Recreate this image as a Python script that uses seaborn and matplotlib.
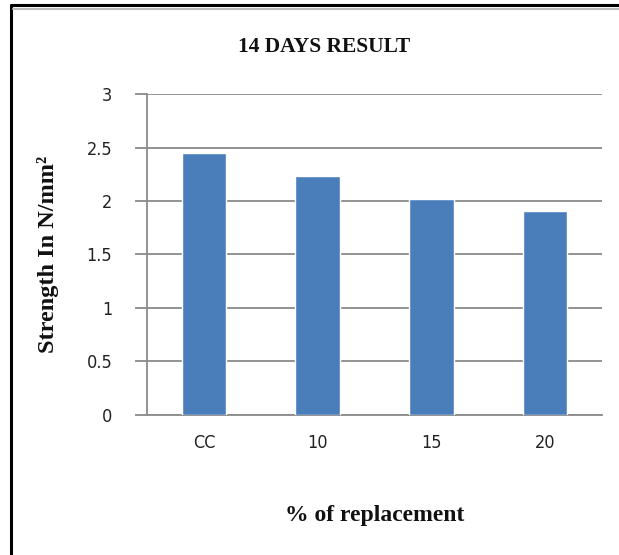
import matplotlib
matplotlib.use("Agg")
import matplotlib.pyplot as plt
import seaborn as sns
import pandas as pd
from matplotlib.lines import Line2D

categories = ["CC", "10", "15", "20"]
strength = [2.45, 2.23, 2.02, 1.91]
y_ticks = [0, 0.5, 1, 1.5, 2, 2.5, 3]
y_tick_labels = ["0", "0.5", "1", "1.5", "2", "2.5", "3"]

sns.set_theme(style="white")
plt.rcParams["font.family"] = ["DejaVu Sans"]
plt.rcParams["font.stretch"] = "condensed"

df = pd.DataFrame({"replacement": categories, "strength": strength})

fig = plt.figure(figsize=(6.19, 5.55), dpi=100)
ax = fig.add_axes([0.2375, 0.2523, 0.735, 0.5783])

sns.barplot(data=df, x="replacement", y="strength", ax=ax,
            color="#4A7EBB", saturation=1, width=0.39, zorder=3)

ax.set_ylim(0, 3)
ax.set_yticks(y_ticks)
ax.set_yticklabels(y_tick_labels)
ax.yaxis.grid(True, color="#8a8a8a", linewidth=1.3, zorder=0)
ax.set_axisbelow(True)

for side in ["top", "right"]:
    ax.spines[side].set_visible(False)
for side in ["left", "bottom"]:
    ax.spines[side].set_color("#8a8a8a")
    ax.spines[side].set_linewidth(1.3)

ax.tick_params(axis="y", which="major", left=True, length=9, width=1.3,
               color="#8a8a8a", pad=16, labelsize=13, labelcolor="#222222")
ax.tick_params(axis="x", bottom=False, pad=8, labelsize=13, labelcolor="#222222")

serif = ["Liberation Serif", "DejaVu Serif"]
ax.set_xlabel("% of replacement", fontsize=17, fontweight="bold",
              family=serif, color="#111111", labelpad=38)
ax.set_ylabel("Strength In N/mm²", fontsize=17.5, fontweight="bold",
              family=serif, color="#111111", labelpad=20)

fig.text(0.523, 0.915, "14 DAYS RESULT", ha="center", va="center",
         fontsize=15.5, fontweight="bold", family=serif, color="#111111")

# outer frame of the chart area
fig.add_artist(Line2D([0.018, 0.018], [0.0, 0.991], transform=fig.transFigure,
                      color="black", linewidth=2.2))
fig.add_artist(Line2D([0.018, 1.0], [0.991, 0.991], transform=fig.transFigure,
                      color="black", linewidth=2.2))
fig.add_artist(Line2D([0.021, 1.0], [0.984, 0.984], transform=fig.transFigure,
                      color="#bbbbbb", linewidth=1.5))

fig.savefig("out.png", dpi=100)
